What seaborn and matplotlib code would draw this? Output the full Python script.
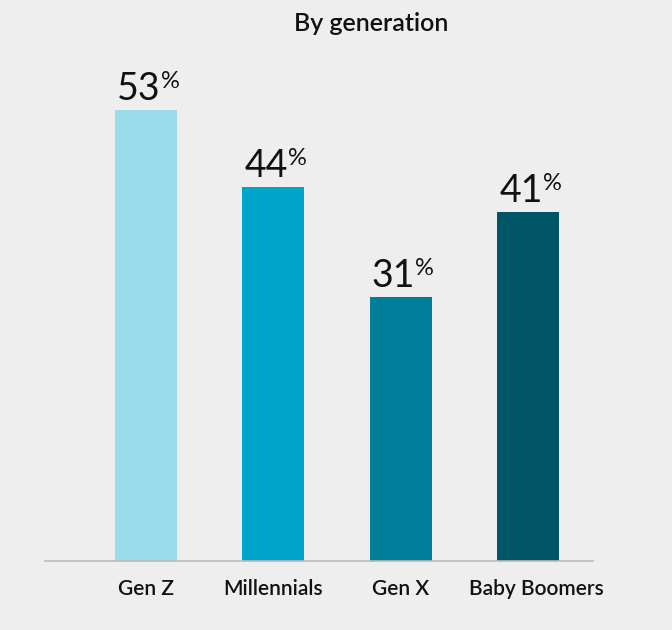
import matplotlib
matplotlib.use("Agg")
import matplotlib.pyplot as plt
import matplotlib.transforms as mtransforms
import seaborn as sns
import pandas as pd

categories = ["Gen Z", "Millennials", "Gen X", "Baby Boomers"]
values = [53, 44, 31, 41]
colors = ["#9bdcea", "#00a5cb", "#007e99", "#005567"]
title = "By generation"

sns.set_theme(style="white")
plt.rcParams["font.family"] = ["Lato", "DejaVu Sans"]

df = pd.DataFrame({"gen": categories, "pct": values})

fig = plt.figure(figsize=(6.72, 6.30), dpi=100, facecolor="#eeeeee")
ax = fig.add_axes([45 / 672, 69 / 630, 548 / 672, 527.6 / 630])
ax.set_facecolor("#eeeeee")

sns.barplot(data=df, x="gen", y="pct", hue="gen", palette=colors,
            width=0.487, legend=False, ax=ax, saturation=1, linewidth=0)

ax.set_xlim(-0.79, 3.51)
ax.set_ylim(0, 62)
for s in ["top", "right", "left"]:
    ax.spines[s].set_visible(False)
ax.spines["bottom"].set_color("#bbbbbb")
ax.spines["bottom"].set_linewidth(1.2)
ax.set_yticks([])
ax.set_xlabel("")
ax.set_ylabel("")
ax.tick_params(axis="x", length=0, pad=13, labelsize=15)
labels = ax.get_xticklabels()
for lbl in labels:
    lbl.set_fontweight("semibold")
    lbl.set_color("#111111")
labels[-1].set_transform(labels[-1].get_transform() +
                         mtransforms.ScaledTranslation(8 / 100, 0, fig.dpi_scale_trans))

for i, v in enumerate(values):
    t = ax.annotate(f"{v}", xy=(i, v), xytext=(-5, 7), textcoords="offset points",
                    ha="center", va="baseline", fontsize=27, color="#111111")
    ax.annotate("%", xy=(1, 1.0), xycoords=t, xytext=(0, 0), textcoords="offset points",
                ha="left", va="top", fontsize=17, color="#111111")

fig.text(371 / 672, 1 - 31 / 630, title, ha="center", va="baseline",
         fontsize=18, fontweight="semibold", color="#111111")

fig.savefig("out.png", dpi=100, facecolor=fig.get_facecolor())
